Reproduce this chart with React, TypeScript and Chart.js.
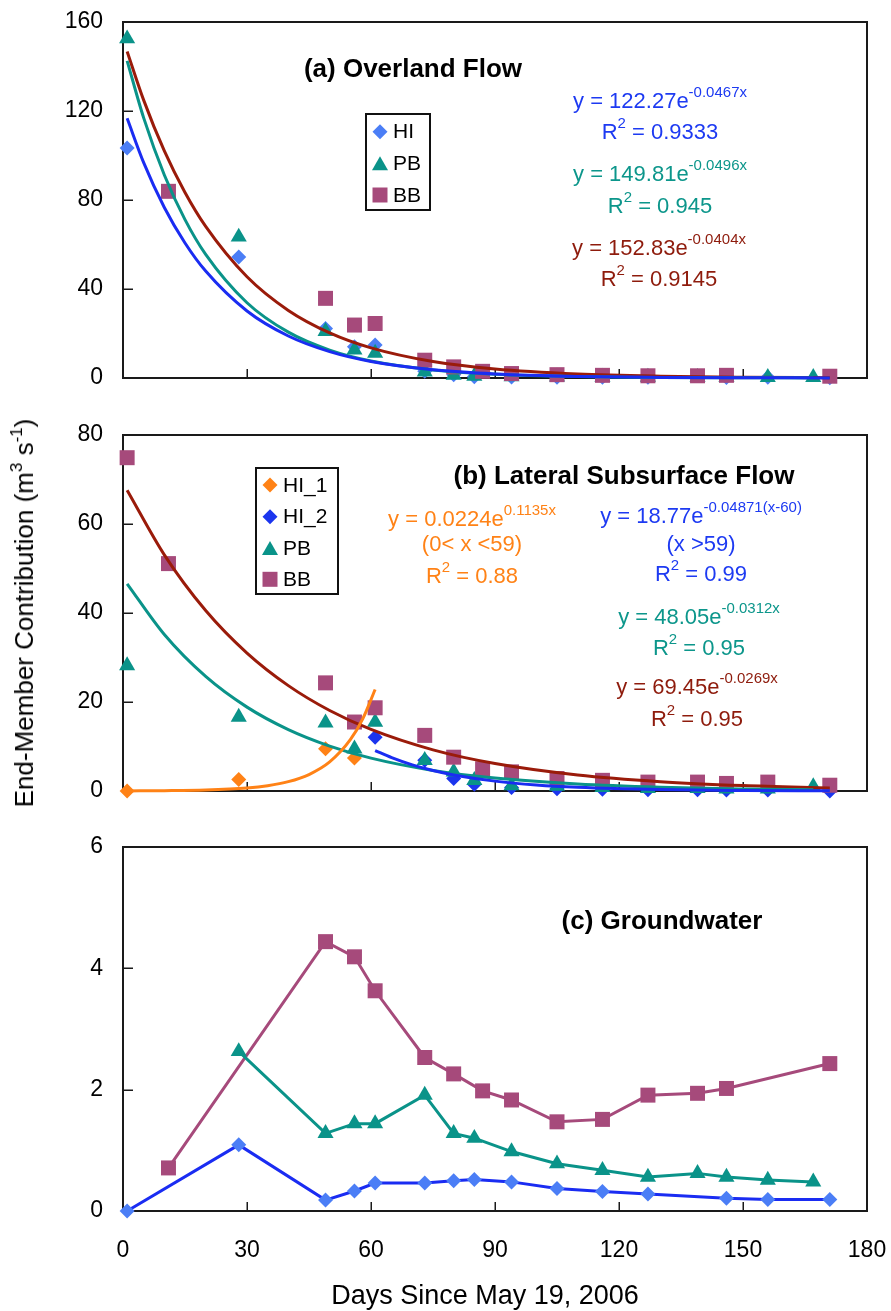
import React, { useEffect, useRef } from 'react';
import { Chart, registerables } from 'chart.js';

Chart.register(...registerables);

const FONT = '"Liberation Sans", Arial, Helvetica, sans-serif';

// ---------------- shared x axis ----------------
const xMin = 0;
const xMax = 180;
const xStep = 30;

// ---------------- (a) Overland Flow ----------------
const aHIDays = [1, 28, 49, 56, 61, 73, 80, 85, 94, 105, 116, 127, 146, 156, 171];
const aHIValues = [103.4, 54.4, 22.3, 14.0, 14.8, 3.0, 1.5, 0.6, 0.5, 0.3, 0.3, 0.3, 0.2, 0.3, 0.1];
const aPBDays = [1, 28, 49, 56, 61, 73, 80, 85, 94, 105, 116, 127, 139, 146, 156, 167];
const aPBValues = [152.5, 63.4, 21.0, 12.6, 11.2, 2.8, 1.3, 0.9, 0.6, 0.5, 0.4, 0.4, 0.3, 0.3, 0.3, 0.3];
const aBBDays = [11, 49, 56, 61, 73, 80, 87, 94, 105, 116, 127, 139, 146, 171];
const aBBValues = [83.9, 35.8, 23.8, 24.5, 8.0, 5.0, 3.0, 2.0, 1.5, 1.2, 1.0, 1.0, 1.2, 0.8];

// fitted curves
const aHITrendDays = [1, 5, 10, 15, 20, 30, 40, 50, 60, 75, 90, 110, 130, 150, 171];
const aHITrend = [116.7, 96.8, 76.65, 60.69, 48.05, 30.12, 18.88, 11.84, 7.42, 3.68, 1.83, 0.72, 0.28, 0.11, 0.04];
const aPBTrendDays = [1, 5, 10, 15, 20, 30, 40, 50, 60, 75, 90, 110, 130, 150, 167];
const aPBTrend = [142.56, 116.9, 91.24, 71.19, 55.56, 33.83, 20.6, 12.54, 7.64, 3.63, 1.73, 0.64, 0.24, 0.09, 0.04];
const aBBTrendDays = [1, 5, 10, 15, 20, 30, 40, 50, 60, 75, 90, 110, 130, 150, 171];
const aBBTrend = [146.78, 124.88, 102.03, 83.37, 68.12, 45.48, 30.37, 20.28, 13.54, 7.39, 4.03, 1.79, 0.8, 0.36, 0.15];

// ---------------- (b) Lateral Subsurface Flow ----------------
const bHI1Days = [1, 28, 49, 56];
const bHI1Values = [0, 2.6, 9.5, 7.4];
const bHI2Days = [61, 73, 80, 85, 94, 105, 116, 127, 139, 146, 156, 171];
const bHI2Values = [12.1, 6.9, 2.8, 1.5, 0.8, 0.5, 0.4, 0.3, 0.3, 0.2, 0.2, 0.0];
const bPBDays = [1, 28, 49, 56, 61, 73, 80, 85, 94, 105, 116, 127, 139, 146, 156, 167];
const bPBValues = [28.2, 16.6, 15.3, 9.5, 15.5, 6.9, 4.3, 2.4, 1.2, 1.1, 0.8, 0.6, 0.6, 0.5, 0.5, 1.0];
const bBBDays = [1, 11, 49, 56, 61, 73, 80, 87, 94, 105, 116, 127, 139, 146, 156, 171];
const bBBValues = [74.9, 51.1, 24.3, 15.5, 18.7, 12.5, 7.6, 5.0, 4.3, 2.8, 2.4, 2.0, 2.0, 1.7, 2.0, 1.3];

const bHI1TrendDays = [1, 10, 20, 30, 35, 40, 45, 50, 55, 58, 61];
const bHI1Trend = [0.025, 0.07, 0.217, 0.675, 1.19, 2.1, 3.7, 6.53, 11.52, 16.2, 22.8];
const bHI2TrendDays = [61, 65, 70, 75, 80, 90, 100, 110, 130, 150, 171];
const bHI2Trend = [9.1, 7.49, 5.87, 4.6, 3.61, 2.22, 1.36, 0.84, 0.32, 0.12, 0.04];
const bPBTrendDays = [1, 10, 20, 30, 40, 50, 60, 75, 90, 110, 130, 150, 167];
const bPBTrend = [46.57, 35.17, 25.75, 18.85, 13.8, 10.1, 7.39, 4.63, 2.9, 1.55, 0.83, 0.45, 0.26];
const bBBTrendDays = [1, 10, 20, 30, 40, 50, 60, 75, 90, 110, 130, 150, 171];
const bBBTrend = [67.61, 53.07, 40.55, 30.99, 23.68, 18.09, 13.83, 9.24, 6.17, 3.6, 2.1, 1.23, 0.7];

// ---------------- (c) Groundwater ----------------
const cHIDays = [1, 28, 49, 56, 61, 73, 80, 85, 94, 105, 116, 127, 146, 156, 171];
const cHIValues = [0, 1.09, 0.18, 0.33, 0.46, 0.46, 0.5, 0.52, 0.48, 0.37, 0.32, 0.28, 0.21, 0.19, 0.19];
const cPBDays = [28, 49, 56, 61, 73, 80, 85, 94, 105, 116, 127, 139, 146, 156, 167];
const cPBValues = [2.63, 1.28, 1.44, 1.44, 1.91, 1.28, 1.2, 0.98, 0.78, 0.67, 0.56, 0.62, 0.56, 0.51, 0.48];
const cBBDays = [11, 49, 56, 61, 73, 80, 87, 94, 105, 116, 127, 139, 146, 171];
const cBBValues = [0.71, 4.44, 4.19, 3.63, 2.53, 2.26, 1.98, 1.83, 1.47, 1.51, 1.91, 1.94, 2.02, 2.43];

// ---------------- styles ----------------
const HI_MARK = '#4b7ef6';
const HI2_MARK = '#1b35ee';
const BLUE_LINE = '#1a2cf2';
const TEAL = '#0a9389';
const PURPLE = '#a64a7b';
const DARKRED = '#9a1b0a';
const ORANGE = '#ff8216';
const TXT_BLUE = '#1d3af2';
const TXT_TEAL = '#0c968b';
const TXT_RED = '#8e1b0c';
const TXT_ORANGE = '#ff8216';

const PLOT_LEFT = 123;
const PLOT_RIGHT = 867;
const PAGE_W = 891;

const toPts = (xs: number[], ys: number[]) => xs.map((x, i) => ({ x, y: ys[i] }));

type Seg = [string, boolean?];
type TextItem = { x: number; y: number; color: string; segs: Seg[]; size?: number; bold?: boolean };
type LegendItem = { label: string; shape: 'diamond' | 'triangle' | 'square'; color: string };
type Legend = { x0: number; y0: number; x1: number; y1: number; markerX: number; textX: number; rows: number[]; items: LegendItem[] };

function drawRich(ctx: CanvasRenderingContext2D, item: TextItem, offY: number) {
  const size = item.size || 22;
  const supSize = Math.round(size * 0.66);
  const weight = item.bold ? 'bold' : 'normal';
  let total = 0;
  const widths = item.segs.map(([t, sup]) => {
    ctx.font = `${weight} ${sup ? supSize : size}px ${FONT}`;
    const w = ctx.measureText(t).width;
    total += w;
    return w;
  });
  let x = item.x - total / 2;
  const y = item.y - offY;
  ctx.fillStyle = item.color;
  ctx.textBaseline = 'middle';
  ctx.textAlign = 'left';
  item.segs.forEach(([t, sup], i) => {
    ctx.font = `${weight} ${sup ? supSize : size}px ${FONT}`;
    ctx.fillText(t, x, sup ? y - size * 0.42 : y);
    x += widths[i];
  });
}

function drawShape(ctx: CanvasRenderingContext2D, shape: string, x: number, y: number, color: string) {
  ctx.fillStyle = color;
  ctx.beginPath();
  if (shape === 'diamond') {
    const r = 7.5;
    ctx.moveTo(x, y - r);
    ctx.lineTo(x + r, y);
    ctx.lineTo(x, y + r);
    ctx.lineTo(x - r, y);
  } else if (shape === 'triangle') {
    const w = 16, h = 14;
    ctx.moveTo(x, y - h / 2);
    ctx.lineTo(x + w / 2, y + h / 2);
    ctx.lineTo(x - w / 2, y + h / 2);
  } else {
    const s = 15;
    ctx.rect(x - s / 2, y - s / 2, s, s);
  }
  ctx.closePath();
  ctx.fill();
}

function makeDeco(offY: number, texts: TextItem[], legend?: Legend) {
  return {
    id: 'deco',
    beforeDatasetsDraw(chart: any) {
      const { ctx, chartArea: a, scales } = chart;
      ctx.save();
      ctx.strokeStyle = '#1a1a1a';
      ctx.lineWidth = 2;
      ctx.strokeRect(a.left, a.top, a.right - a.left, a.bottom - a.top);
      ctx.lineWidth = 1.5;
      ctx.beginPath();
      scales.y.ticks.forEach((t: any) => {
        const py = Math.round(scales.y.getPixelForValue(t.value)) + 0.25;
        ctx.moveTo(a.left, py);
        ctx.lineTo(a.left + 10, py);
      });
      scales.x.ticks.forEach((t: any) => {
        const px = Math.round(scales.x.getPixelForValue(t.value)) + 0.25;
        ctx.moveTo(px, a.bottom);
        ctx.lineTo(px, a.bottom - 9);
      });
      ctx.stroke();
      ctx.restore();
    },
    afterDraw(chart: any) {
      const ctx: CanvasRenderingContext2D = chart.ctx;
      ctx.save();
      texts.forEach((t) => drawRich(ctx, t, offY));
      if (legend) {
        ctx.strokeStyle = '#111';
        ctx.lineWidth = 2;
        ctx.strokeRect(legend.x0, legend.y0 - offY, legend.x1 - legend.x0, legend.y1 - legend.y0);
        legend.items.forEach((it, i) => {
          const y = legend.rows[i] - offY;
          drawShape(ctx, it.shape, legend.markerX, y, it.color);
          ctx.fillStyle = '#000';
          ctx.font = `21px ${FONT}`;
          ctx.textBaseline = 'middle';
          ctx.textAlign = 'left';
          ctx.fillText(it.label, legend.textX, y + 1);
        });
      }
      ctx.restore();
    },
  };
}

const trend = (xs: number[], ys: number[], color: string, order: number) => ({
  data: toPts(xs, ys),
  showLine: true,
  borderColor: color,
  borderWidth: 3,
  pointRadius: 0,
  cubicInterpolationMode: 'monotone',
  fill: false,
  clip: false,
  order,
});

const marks = (xs: number[], ys: number[], color: string, style: string, radius: number, order: number, line?: string) => ({
  data: toPts(xs, ys),
  showLine: !!line,
  borderColor: line || color,
  borderWidth: line ? 3 : 0,
  pointStyle: style,
  pointRadius: radius,
  pointBackgroundColor: color,
  pointBorderColor: color,
  pointBorderWidth: 0,
  tension: 0,
  fill: false,
  clip: false,
  order,
});

type PanelSpec = {
  top: number;
  height: number;
  plotTop: number;
  plotBottom: number;
  yMax: number;
  yStep: number;
  showX: boolean;
  datasets: any[];
  texts: TextItem[];
  legend?: Legend;
};

const zeroPad = (s: any) => {
  s.paddingTop = 0;
  s.paddingBottom = 0;
  s.paddingLeft = 0;
  s.paddingRight = 0;
};

function makeConfig(p: PanelSpec): any {
  const tickFont = { family: FONT, size: 23 };
  return {
    type: 'scatter',
    data: { datasets: p.datasets },
    options: {
      responsive: false,
      maintainAspectRatio: false,
      animation: false,
      devicePixelRatio: 1,
      layout: {
        padding: {
          left: 0,
          right: PAGE_W - PLOT_RIGHT,
          top: p.plotTop - p.top,
          bottom: p.showX ? 0 : p.top + p.height - p.plotBottom,
        },
      },
      plugins: { legend: { display: false }, tooltip: { enabled: false } },
      scales: {
        x: {
          type: 'linear',
          min: xMin,
          max: xMax,
          ticks: { stepSize: xStep, display: p.showX, font: tickFont, color: '#000', padding: 26, maxRotation: 0 },
          grid: { display: false, drawTicks: false },
          border: { display: false },
          afterFit: (s: any) => {
            s.height = p.showX ? p.top + p.height - p.plotBottom : 0;
            zeroPad(s);
          },
        },
        y: {
          type: 'linear',
          min: 0,
          max: p.yMax,
          ticks: { stepSize: p.yStep, font: tickFont, color: '#000', padding: 20 },
          grid: { display: false, drawTicks: false },
          border: { display: false },
          afterFit: (s: any) => {
            s.width = PLOT_LEFT;
            zeroPad(s);
          },
        },
      },
    },
    plugins: [makeDeco(p.top, p.texts, p.legend)],
  };
}

const panelA: PanelSpec = {
  top: 0,
  height: 400,
  plotTop: 22,
  plotBottom: 378,
  yMax: 160,
  yStep: 40,
  showX: false,
  datasets: [
    trend(aHITrendDays, aHITrend, BLUE_LINE, 1),
    trend(aPBTrendDays, aPBTrend, TEAL, 2),
    trend(aBBTrendDays, aBBTrend, DARKRED, 3),
    marks(aBBDays, aBBValues, PURPLE, 'rect', 10.6, 10),
    marks(aPBDays, aPBValues, TEAL, 'triangle', 9.3, 11),
    marks(aHIDays, aHIValues, HI_MARK, 'rectRot', 7.5, 12),
  ],
  texts: [
    { x: 413, y: 70, color: '#000', segs: [['(a) Overland Flow']], size: 26, bold: true },
    { x: 660, y: 102, color: TXT_BLUE, segs: [['y = 122.27e'], ['-0.0467x', true]] },
    { x: 660, y: 133, color: TXT_BLUE, segs: [['R'], ['2', true], [' = 0.9333']] },
    { x: 660, y: 175, color: TXT_TEAL, segs: [['y = 149.81e'], ['-0.0496x', true]] },
    { x: 660, y: 207, color: TXT_TEAL, segs: [['R'], ['2', true], [' = 0.945']] },
    { x: 659, y: 249, color: TXT_RED, segs: [['y = 152.83e'], ['-0.0404x', true]] },
    { x: 659, y: 280, color: TXT_RED, segs: [['R'], ['2', true], [' = 0.9145']] },
  ],
  legend: {
    x0: 366, y0: 114, x1: 430, y1: 210, markerX: 380, textX: 393, rows: [131.7, 163.3, 195],
    items: [
      { label: 'HI', shape: 'diamond', color: HI_MARK },
      { label: 'PB', shape: 'triangle', color: TEAL },
      { label: 'BB', shape: 'square', color: PURPLE },
    ],
  },
};

const panelB: PanelSpec = {
  top: 400,
  height: 410,
  plotTop: 435,
  plotBottom: 791,
  yMax: 80,
  yStep: 20,
  showX: false,
  datasets: [
    trend(bHI1TrendDays, bHI1Trend, ORANGE, 1),
    trend(bHI2TrendDays, bHI2Trend, BLUE_LINE, 2),
    trend(bPBTrendDays, bPBTrend, TEAL, 3),
    trend(bBBTrendDays, bBBTrend, DARKRED, 4),
    marks(bBBDays, bBBValues, PURPLE, 'rect', 10.6, 10),
    marks(bPBDays, bPBValues, TEAL, 'triangle', 9.3, 11),
    marks(bHI2Days, bHI2Values, HI2_MARK, 'rectRot', 7.5, 12),
    marks(bHI1Days, bHI1Values, ORANGE, 'rectRot', 7.5, 13),
  ],
  texts: [
    { x: 624, y: 477, color: '#000', segs: [['(b) Lateral Subsurface Flow']], size: 26, bold: true },
    { x: 472, y: 520, color: TXT_ORANGE, segs: [['y = 0.0224e'], ['0.1135x', true]] },
    { x: 472, y: 545, color: TXT_ORANGE, segs: [['(0< x <59)']] },
    { x: 472, y: 577, color: TXT_ORANGE, segs: [['R'], ['2', true], [' = 0.88']] },
    { x: 701, y: 517, color: TXT_BLUE, segs: [['y = 18.77e'], ['-0.04871(x-60)', true]] },
    { x: 701, y: 545, color: TXT_BLUE, segs: [['(x >59)']] },
    { x: 701, y: 575, color: TXT_BLUE, segs: [['R'], ['2', true], [' = 0.99']] },
    { x: 699, y: 618, color: TXT_TEAL, segs: [['y = 48.05e'], ['-0.0312x', true]] },
    { x: 699, y: 649, color: TXT_TEAL, segs: [['R'], ['2', true], [' = 0.95']] },
    { x: 697, y: 688, color: TXT_RED, segs: [['y = 69.45e'], ['-0.0269x', true]] },
    { x: 697, y: 720, color: TXT_RED, segs: [['R'], ['2', true], [' = 0.95']] },
  ],
  legend: {
    x0: 256, y0: 468, x1: 338, y1: 594, markerX: 270, textX: 283, rows: [485, 516.7, 548, 579.3],
    items: [
      { label: 'HI_1', shape: 'diamond', color: ORANGE },
      { label: 'HI_2', shape: 'diamond', color: HI2_MARK },
      { label: 'PB', shape: 'triangle', color: TEAL },
      { label: 'BB', shape: 'square', color: PURPLE },
    ],
  },
};

const panelC: PanelSpec = {
  top: 810,
  height: 501,
  plotTop: 847,
  plotBottom: 1211,
  yMax: 6,
  yStep: 2,
  showX: true,
  datasets: [
    marks(cHIDays, cHIValues, HI_MARK, 'rectRot', 7.5, 1, BLUE_LINE),
    marks(cPBDays, cPBValues, TEAL, 'triangle', 9.3, 2, TEAL),
    marks(cBBDays, cBBValues, PURPLE, 'rect', 10.6, 3, PURPLE),
  ],
  texts: [
    { x: 662, y: 922, color: '#000', segs: [['(c) Groundwater']], size: 26, bold: true },
    { x: 485, y: 1297, color: '#000', segs: [['Days Since May 19, 2006']], size: 27 },
  ],
};

function Panel({ spec }: { spec: PanelSpec }) {
  const ref = useRef<HTMLCanvasElement | null>(null);
  useEffect(() => {
    if (!ref.current) return;
    const chart = new Chart(ref.current, makeConfig(spec));
    return () => chart.destroy();
  }, []);
  return (
    <canvas
      ref={ref}
      width={PAGE_W}
      height={spec.height}
      style={{ position: 'absolute', left: 0, top: spec.top, width: PAGE_W, height: spec.height, display: 'block' }}
    />
  );
}

export default function App() {
  return (
    <div style={{ position: 'absolute', left: 0, top: 0, width: PAGE_W, height: 1311, background: '#fff', overflow: 'hidden' }}>
      <Panel spec={panelA} />
      <Panel spec={panelB} />
      <Panel spec={panelC} />
      <div
        style={{
          position: 'absolute',
          left: 24,
          top: 613,
          transform: 'translate(-50%, -50%) rotate(-90deg)',
          whiteSpace: 'nowrap',
          fontFamily: FONT,
          fontSize: 26,
          lineHeight: '30px',
          color: '#000',
        }}
      >
        End-Member Contribution (m<sup style={{ fontSize: 17, verticalAlign: 'top', lineHeight: '16px' }}>3</sup> s
        <sup style={{ fontSize: 17, verticalAlign: 'top', lineHeight: '16px' }}>-1</sup>)
      </div>
    </div>
  );
}
